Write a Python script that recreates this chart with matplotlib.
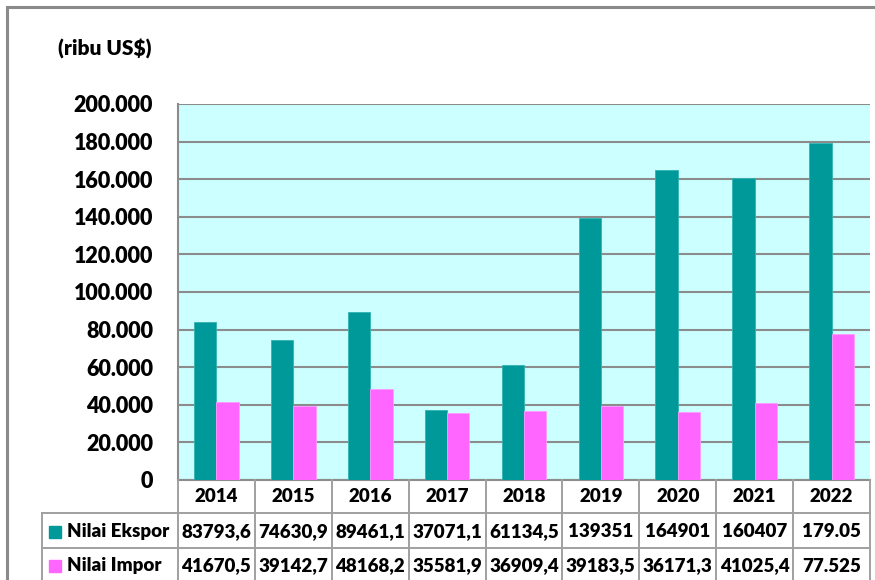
import matplotlib.pyplot as plt
import matplotlib.ticker as mticker
from matplotlib.patches import Rectangle
import numpy as np

tahun = ['2014', '2015', '2016', '2017', '2018', '2019', '2020', '2021', '2022']
ekspor = [83793.6, 74630.9, 89461.1, 37071.1, 61134.5, 139351, 164901, 160407, 179050]
impor = [41670.5, 39142.7, 48168.2, 35581.9, 36909.4, 39183.5, 36171.3, 41025.4, 77525]
ekspor_txt = ['83793,6', '74630,9', '89461,1', '37071,1', '61134,5', '139351', '164901', '160407', '179.05']
impor_txt = ['41670,5', '39142,7', '48168,2', '35581,9', '36909,4', '39183,5', '36171,3', '41025,4', '77.525']
seri = ['Nilai Ekspor', 'Nilai Impor']

TEAL = '#009999'
PINK = '#FF66FF'
GRID = '#8c8c8c'
LINE = '#a0a0a0'
WT = 'heavy'

plt.rcParams['font.family'] = ['Lato', 'DejaVu Sans']
plt.rcParams['font.weight'] = WT

W, H = 875, 580
fig = plt.figure(figsize=(W / 100, H / 100), dpi=100)

# outer chart frame
fig.patches.append(Rectangle((7 / W, -0.1), 1.2, 1 - 7 / H + 0.1, transform=fig.transFigure,
                             fill=False, edgecolor='#8a8a8a', linewidth=2.2))

L, R, T, B = 178, 870, 104, 480
ax = fig.add_axes([L / W, 1 - B / H, (R - L) / W, (B - T) / H])
ax.set_facecolor('#CCFFFF')

x = np.arange(len(tahun))
w = 0.29
ax.bar(x - w / 2, ekspor, w, color=TEAL, edgecolor='#33b3b3', linewidth=0.6, zorder=3)
ax.bar(x + w / 2, impor, w, color=PINK, edgecolor='#ff99ff', linewidth=0.6, zorder=3)

ax.set_xlim(-0.5, len(tahun) - 0.5)
ax.set_ylim(0, 200000)
ax.set_yticks(np.arange(0, 200001, 20000))
ax.yaxis.set_major_formatter(mticker.FuncFormatter(lambda v, p: f'{int(v):,}'.replace(',', '.')))
ax.tick_params(axis='y', length=0, pad=18, labelsize=15.5)
for lbl in ax.get_yticklabels():
    lbl.set_fontweight(WT)
ax.set_xticks([])
ax.grid(axis='y', color=GRID, linewidth=1.5, zorder=1)
for s in ['top', 'right']:
    ax.spines[s].set_visible(False)
ax.spines['left'].set_color(GRID)
ax.spines['bottom'].set_color(GRID)
ax.spines['left'].set_linewidth(1.5)
ax.spines['bottom'].set_linewidth(1.5)

fig.text(58 / W, 1 - 49 / H, '(ribu US$)', fontsize=15, fontweight=WT, va='center', ha='left')

# data table below the bars, rows measured in pixels from the axis line
tab = fig.add_axes([L / W, 0, (R - L) / W, (H - B) / H])
tab.set_xlim(-0.5, len(tahun) - 0.5)
tab.set_ylim(H - B, 0)
tab.axis('off')

cat_px = (R - L) / len(tahun)


def col(px):
    return -0.5 + (px - L) / cat_px


rows = [0, 33, 68, 103]
xl = col(42)
kw = dict(color=LINE, linewidth=1.4, clip_on=False)
for i in range(len(tahun) + 1):
    tab.plot([i - 0.5, i - 0.5], [rows[0], rows[3]], **kw)
tab.plot([xl, xl], [rows[1], rows[3]], **kw)
for r in rows[1:]:
    tab.plot([xl, len(tahun) - 0.5], [r, r], **kw)

fs = 13.5
for i, t in enumerate(tahun):
    tab.text(i, 17, t, ha='center', va='center', fontsize=fs, fontweight=WT)
    tab.text(i, 51.5, ekspor_txt[i], ha='center', va='center', fontsize=fs, fontweight=WT)
    tab.text(i, 86, impor_txt[i], ha='center', va='center', fontsize=fs, fontweight=WT)

for yy, nama, c in [(51.5, seri[0], TEAL), (86, seri[1], PINK)]:
    tab.plot([col(55)], [yy], marker='s', ms=8, color=c, clip_on=False)
    tab.text(col(67), yy, nama, ha='left', va='center', fontsize=fs, fontweight=WT)

fig.savefig('out.png', dpi=100)
